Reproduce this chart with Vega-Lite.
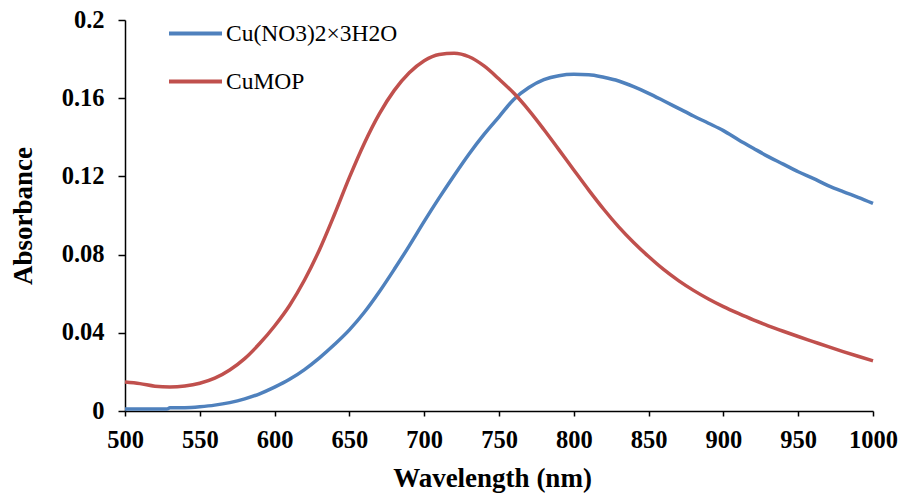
{
  "$schema": "https://vega.github.io/schema/vega-lite/v6.json",
  "autosize": "none",
  "width": 748,
  "height": 391,
  "padding": {"left": 125, "top": 20, "right": 28, "bottom": 82},
  "background": "white",
  "config": {"view": {"stroke": null}, "font": "Liberation Serif"},
  "data": {"values": [
    {"wl": 500, "a": 0.0010, "s": "Cu(NO3)2×3H2O"},
    {"wl": 510, "a": 0.0010, "s": "Cu(NO3)2×3H2O"},
    {"wl": 520, "a": 0.0010, "s": "Cu(NO3)2×3H2O"},
    {"wl": 528, "a": 0.0010, "s": "Cu(NO3)2×3H2O"},
    {"wl": 530, "a": 0.0016, "s": "Cu(NO3)2×3H2O"},
    {"wl": 540, "a": 0.0017, "s": "Cu(NO3)2×3H2O"},
    {"wl": 550, "a": 0.0022, "s": "Cu(NO3)2×3H2O"},
    {"wl": 560, "a": 0.0030, "s": "Cu(NO3)2×3H2O"},
    {"wl": 570, "a": 0.0043, "s": "Cu(NO3)2×3H2O"},
    {"wl": 580, "a": 0.0062, "s": "Cu(NO3)2×3H2O"},
    {"wl": 590, "a": 0.0088, "s": "Cu(NO3)2×3H2O"},
    {"wl": 600, "a": 0.0122, "s": "Cu(NO3)2×3H2O"},
    {"wl": 610, "a": 0.0162, "s": "Cu(NO3)2×3H2O"},
    {"wl": 620, "a": 0.0212, "s": "Cu(NO3)2×3H2O"},
    {"wl": 630, "a": 0.0272, "s": "Cu(NO3)2×3H2O"},
    {"wl": 640, "a": 0.0340, "s": "Cu(NO3)2×3H2O"},
    {"wl": 650, "a": 0.0415, "s": "Cu(NO3)2×3H2O"},
    {"wl": 660, "a": 0.0505, "s": "Cu(NO3)2×3H2O"},
    {"wl": 670, "a": 0.0610, "s": "Cu(NO3)2×3H2O"},
    {"wl": 680, "a": 0.0725, "s": "Cu(NO3)2×3H2O"},
    {"wl": 690, "a": 0.0845, "s": "Cu(NO3)2×3H2O"},
    {"wl": 700, "a": 0.0970, "s": "Cu(NO3)2×3H2O"},
    {"wl": 710, "a": 0.1090, "s": "Cu(NO3)2×3H2O"},
    {"wl": 720, "a": 0.1205, "s": "Cu(NO3)2×3H2O"},
    {"wl": 730, "a": 0.1315, "s": "Cu(NO3)2×3H2O"},
    {"wl": 740, "a": 0.1415, "s": "Cu(NO3)2×3H2O"},
    {"wl": 750, "a": 0.1505, "s": "Cu(NO3)2×3H2O"},
    {"wl": 760, "a": 0.1595, "s": "Cu(NO3)2×3H2O"},
    {"wl": 770, "a": 0.1655, "s": "Cu(NO3)2×3H2O"},
    {"wl": 780, "a": 0.1695, "s": "Cu(NO3)2×3H2O"},
    {"wl": 790, "a": 0.1715, "s": "Cu(NO3)2×3H2O"},
    {"wl": 800, "a": 0.1722, "s": "Cu(NO3)2×3H2O"},
    {"wl": 810, "a": 0.1720, "s": "Cu(NO3)2×3H2O"},
    {"wl": 820, "a": 0.1707, "s": "Cu(NO3)2×3H2O"},
    {"wl": 830, "a": 0.1688, "s": "Cu(NO3)2×3H2O"},
    {"wl": 840, "a": 0.1659, "s": "Cu(NO3)2×3H2O"},
    {"wl": 850, "a": 0.1625, "s": "Cu(NO3)2×3H2O"},
    {"wl": 860, "a": 0.1587, "s": "Cu(NO3)2×3H2O"},
    {"wl": 870, "a": 0.1548, "s": "Cu(NO3)2×3H2O"},
    {"wl": 880, "a": 0.1509, "s": "Cu(NO3)2×3H2O"},
    {"wl": 890, "a": 0.1472, "s": "Cu(NO3)2×3H2O"},
    {"wl": 900, "a": 0.1434, "s": "Cu(NO3)2×3H2O"},
    {"wl": 910, "a": 0.1388, "s": "Cu(NO3)2×3H2O"},
    {"wl": 920, "a": 0.1344, "s": "Cu(NO3)2×3H2O"},
    {"wl": 930, "a": 0.1301, "s": "Cu(NO3)2×3H2O"},
    {"wl": 940, "a": 0.1263, "s": "Cu(NO3)2×3H2O"},
    {"wl": 950, "a": 0.1224, "s": "Cu(NO3)2×3H2O"},
    {"wl": 960, "a": 0.1190, "s": "Cu(NO3)2×3H2O"},
    {"wl": 970, "a": 0.1153, "s": "Cu(NO3)2×3H2O"},
    {"wl": 980, "a": 0.1122, "s": "Cu(NO3)2×3H2O"},
    {"wl": 990, "a": 0.1093, "s": "Cu(NO3)2×3H2O"},
    {"wl": 1000, "a": 0.1062, "s": "Cu(NO3)2×3H2O"},
    {"wl": 500, "a": 0.0148, "s": "CuMOP"},
    {"wl": 510, "a": 0.0140, "s": "CuMOP"},
    {"wl": 520, "a": 0.0127, "s": "CuMOP"},
    {"wl": 530, "a": 0.0123, "s": "CuMOP"},
    {"wl": 540, "a": 0.0128, "s": "CuMOP"},
    {"wl": 550, "a": 0.0142, "s": "CuMOP"},
    {"wl": 560, "a": 0.0168, "s": "CuMOP"},
    {"wl": 570, "a": 0.0210, "s": "CuMOP"},
    {"wl": 580, "a": 0.0268, "s": "CuMOP"},
    {"wl": 590, "a": 0.0345, "s": "CuMOP"},
    {"wl": 600, "a": 0.0435, "s": "CuMOP"},
    {"wl": 610, "a": 0.0540, "s": "CuMOP"},
    {"wl": 620, "a": 0.0670, "s": "CuMOP"},
    {"wl": 630, "a": 0.0825, "s": "CuMOP"},
    {"wl": 640, "a": 0.1005, "s": "CuMOP"},
    {"wl": 650, "a": 0.1195, "s": "CuMOP"},
    {"wl": 660, "a": 0.1370, "s": "CuMOP"},
    {"wl": 670, "a": 0.1520, "s": "CuMOP"},
    {"wl": 680, "a": 0.1640, "s": "CuMOP"},
    {"wl": 690, "a": 0.1730, "s": "CuMOP"},
    {"wl": 700, "a": 0.1792, "s": "CuMOP"},
    {"wl": 710, "a": 0.1824, "s": "CuMOP"},
    {"wl": 720, "a": 0.1830, "s": "CuMOP"},
    {"wl": 730, "a": 0.1812, "s": "CuMOP"},
    {"wl": 740, "a": 0.1765, "s": "CuMOP"},
    {"wl": 750, "a": 0.1698, "s": "CuMOP"},
    {"wl": 760, "a": 0.1625, "s": "CuMOP"},
    {"wl": 770, "a": 0.1538, "s": "CuMOP"},
    {"wl": 780, "a": 0.1440, "s": "CuMOP"},
    {"wl": 790, "a": 0.1337, "s": "CuMOP"},
    {"wl": 800, "a": 0.1233, "s": "CuMOP"},
    {"wl": 810, "a": 0.1130, "s": "CuMOP"},
    {"wl": 820, "a": 0.1032, "s": "CuMOP"},
    {"wl": 830, "a": 0.0942, "s": "CuMOP"},
    {"wl": 840, "a": 0.0862, "s": "CuMOP"},
    {"wl": 850, "a": 0.0790, "s": "CuMOP"},
    {"wl": 860, "a": 0.0724, "s": "CuMOP"},
    {"wl": 870, "a": 0.0667, "s": "CuMOP"},
    {"wl": 880, "a": 0.0617, "s": "CuMOP"},
    {"wl": 890, "a": 0.0573, "s": "CuMOP"},
    {"wl": 900, "a": 0.0534, "s": "CuMOP"},
    {"wl": 910, "a": 0.0499, "s": "CuMOP"},
    {"wl": 920, "a": 0.0466, "s": "CuMOP"},
    {"wl": 930, "a": 0.0436, "s": "CuMOP"},
    {"wl": 940, "a": 0.0408, "s": "CuMOP"},
    {"wl": 950, "a": 0.0381, "s": "CuMOP"},
    {"wl": 960, "a": 0.0355, "s": "CuMOP"},
    {"wl": 970, "a": 0.0329, "s": "CuMOP"},
    {"wl": 980, "a": 0.0304, "s": "CuMOP"},
    {"wl": 990, "a": 0.0280, "s": "CuMOP"},
    {"wl": 1000, "a": 0.0257, "s": "CuMOP"}
  ]},
  "mark": {"type": "line", "strokeWidth": 3.5, "interpolate": "monotone"},
  "encoding": {
    "x": {
      "field": "wl", "type": "quantitative",
      "scale": {"domain": [500, 1000], "nice": false, "zero": false},
      "axis": {
        "title": "Wavelength (nm)",
        "values": [500, 550, 600, 650, 700, 750, 800, 850, 900, 950, 1000],
        "format": "d",
        "grid": false,
        "labelFlush": false,
        "labelOverlap": false,
        "domainColor": "black", "domainWidth": 1.5,
        "tickColor": "black", "tickWidth": 1.5, "tickSize": 5,
        "labelFont": "Liberation Serif", "labelFontWeight": "bold", "labelFontSize": 24.5,
        "labelColor": "black", "labelPadding": 12,
        "titleFont": "Liberation Serif", "titleFontWeight": "bold", "titleFontSize": 27,
        "titleColor": "black", "titlePadding": 14, "titleX": 367
      }
    },
    "y": {
      "field": "a", "type": "quantitative",
      "scale": {"domain": [0, 0.2], "nice": false},
      "axis": {
        "title": "Absorbance",
        "values": [0, 0.04, 0.08, 0.12, 0.16, 0.2],
        "format": "~g",
        "grid": false,
        "labelFlush": false,
        "labelOverlap": false,
        "domainColor": "black", "domainWidth": 1.5,
        "tickColor": "black", "tickWidth": 1.5, "tickSize": 7,
        "labelFont": "Liberation Serif", "labelFontWeight": "bold", "labelFontSize": 24.5,
        "labelColor": "black", "labelPadding": 14,
        "titleFont": "Liberation Serif", "titleFontWeight": "bold", "titleFontSize": 27,
        "titleColor": "black", "titlePadding": 24
      }
    },
    "color": {
      "field": "s", "type": "nominal",
      "scale": {"domain": ["Cu(NO3)2×3H2O", "CuMOP"], "range": ["#4F81BD", "#C0504D"]},
      "legend": {
        "title": null,
        "orient": "none",
        "legendX": 42,
        "legendY": -15,
        "padding": 0,
        "symbolType": "stroke",
        "symbolSize": 2809,
        "symbolStrokeWidth": 4,
        "labelFont": "Liberation Serif",
        "labelFontSize": 23.5,
        "labelColor": "black",
        "labelOffset": 2,
        "rowPadding": 8,
        "labelLimit": 400
      }
    }
  }
}
